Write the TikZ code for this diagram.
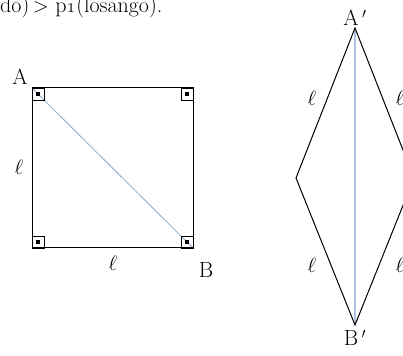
\documentclass[tikz,border=0pt]{standalone}
\usepackage{tikz}
\definecolor{diagblue}{RGB}{140,168,206}
\definecolor{diagblueL}{RGB}{176,194,222}
% right angle mark: corner, then the inward steps
\newcommand\RightMark[3]{%
    \draw #1 rectangle ++(#2,#3);%
    \fill #1 ++(#2/2,#3/2) ++(-2,-2) rectangle ++(4,4);%
}
\tikzset{
    side/.style={line width=1pt, line join=miter},
    diag/.style={line width=0.8pt, draw=diagblue},
    vdiag/.style={line width=1.6pt, draw=diagblueL},
    lbl/.style={font=\fontsize{22}{26}\selectfont, inner sep=0pt},
}

\begin{document}
\begin{tikzpicture}[x=1pt,y=1pt]
\useasboundingbox (0,0) rectangle (403,355);
% text line cut by the top edge
\node[lbl, anchor=base west] (txt) at (0,342) {do)\,$>$\ p\oldstylenums{1}(losango).};
% square
\coordinate (A) at (32,267);
\coordinate (C) at (193,267);
\coordinate (B) at (193,107);
\coordinate (D) at (32,107);
\draw[diag] (A) -- (B);
\draw[side] (A) -- (C) -- (B) -- (D) -- cycle;
\RightMark{(A)}{12}{-12}
\RightMark{(C)}{-12}{-12}
\RightMark{(B)}{-12}{12}
\RightMark{(D)}{12}{12}
\node[lbl] (labA) at (20,278) {A};
\node[lbl] (labB) at (206,85) {B};
\node[lbl] (l1) at (19,188) {$\ell$};
\node[lbl] (l2) at (113,92) {$\ell$};
% rhombus
\coordinate (A') at (355,327);
\coordinate (L) at (296,177);
\coordinate (B') at (355,30);
\coordinate (R) at (414,177);
\draw[vdiag] (A') -- (B');
\draw[side] (A') -- (L) -- (B') -- (R) -- cycle;
\node[lbl] (labA') at (355,337) {A$\,'$};
\node[lbl] (labB') at (355,17) {B$\,'$};
\node[lbl] (l3) at (312,257) {$\ell$};
\node[lbl] (l4) at (400,257) {$\ell$};
\node[lbl] (l5) at (312,90) {$\ell$};
\node[lbl] (l6) at (400,90) {$\ell$};
\end{tikzpicture}
\end{document}
